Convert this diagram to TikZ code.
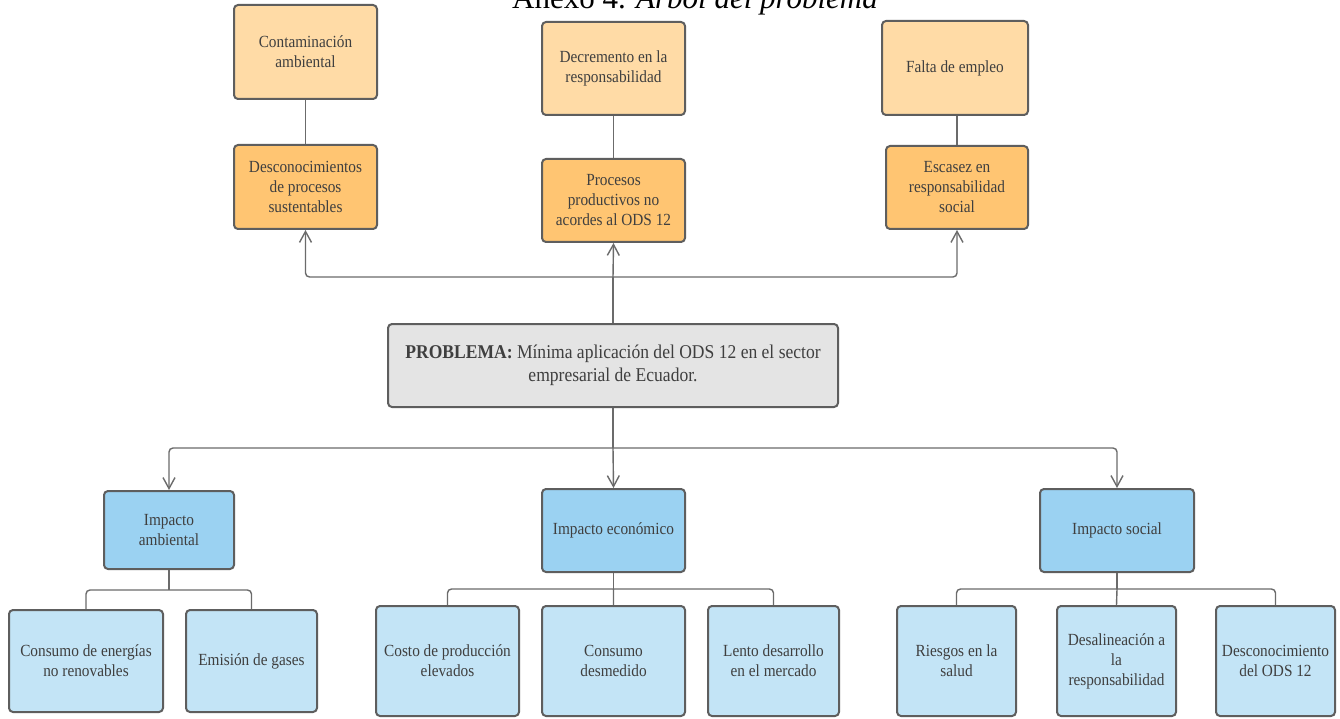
\documentclass[tikz,border=0pt]{standalone}
\usepackage{fontspec}
\setmainfont{Liberation Serif}
\newfontfamily\cajafont{Liberation Serif}[FakeStretch=0.9]
\usetikzlibrary{arrows.meta}
\definecolor{efecto}{HTML}{FFDBA6}
\definecolor{causa}{HTML}{FFC572}
\definecolor{problema}{HTML}{E4E4E4}
\definecolor{impacto}{HTML}{9BD2F2}
\definecolor{detalle}{HTML}{C3E4F6}
\definecolor{borde}{HTML}{5E5E5E}
\definecolor{linea}{HTML}{6B6B6B}
\definecolor{texto}{HTML}{3F3F3F}
\begin{document}
\begin{tikzpicture}[x=1pt,y=-1pt,
  caja/.style={draw=borde,line width=2pt,rounded corners=4pt,align=center,text=texto,
    font=\cajafont\fontsize{17}{20}\selectfont,inner sep=2pt},
  enlace/.style={draw=linea,line width=1.4pt,rounded corners=4pt},
  flecha/.style={enlace,-{Straight Barb[length=11pt,width=12pt,line width=1.4pt]}}]
\useasboundingbox[fill=white] (0,0) rectangle (1340,719);
\node[anchor=base] (titulo) at (695,9) {\fontsize{31}{36}\selectfont Anexo 4. \textit{Árbol del problema}};
% efectos
\node[caja,fill=efecto,minimum width=143pt,minimum height=94pt] (a1) at (305.5,52) {Contaminación\\ambiental};
\node[caja,fill=efecto,minimum width=143pt,minimum height=93pt] (a2) at (613.5,68.5) {Decremento en la\\responsabilidad};
\node[caja,fill=efecto,minimum width=146pt,minimum height=94pt] (a3) at (955,68) {Falta de empleo};
\node[caja,fill=causa,minimum width=143pt,minimum height=84pt] (b1) at (305.5,187) {Desconocimientos\\de procesos\\sustentables};
\node[caja,fill=causa,minimum width=143pt,minimum height=83pt] (b2) at (613.5,200.5) {Procesos\\productivos no\\acordes al ODS 12};
\node[caja,fill=causa,minimum width=142pt,minimum height=83pt] (b3) at (957,187.5) {Escasez en\\responsabilidad\\social};
% problema
\node[caja,fill=problema,minimum width=450pt,minimum height=83pt,font=\cajafont\fontsize{19.5}{23}\selectfont] (p) at (613,365.5)
  {\textbf{PROBLEMA:} Mínima aplicación del ODS 12 en el sector\\empresarial de Ecuador.};
% impactos
\node[caja,fill=impacto,minimum width=130pt,minimum height=78pt] (c1) at (169,530) {Impacto\\ambiental};
\node[caja,fill=impacto,minimum width=143pt,minimum height=83pt] (c2) at (613.5,530.5) {Impacto económico};
\node[caja,fill=impacto,minimum width=154pt,minimum height=83pt] (c3) at (1117,530.5) {Impacto social};
\node[caja,fill=detalle,minimum width=154pt,minimum height=102pt] (d1) at (86,661) {Consumo de energías\\no renovables};
\node[caja,fill=detalle,minimum width=131pt,minimum height=102pt] (d2) at (251.5,661) {Emisión de gases};
\node[caja,fill=detalle,minimum width=143pt,minimum height=110pt] (d3) at (447.5,661) {Costo de producción\\elevados};
\node[caja,fill=detalle,minimum width=143pt,minimum height=110pt] (d4) at (613.5,661) {Consumo\\desmedido};
\node[caja,fill=detalle,minimum width=131pt,minimum height=110pt] (d5) at (773.5,661) {Lento desarrollo\\en el mercado};
\node[caja,fill=detalle,minimum width=119pt,minimum height=110pt] (d6) at (956.5,661) {Riesgos en la\\salud};
\node[caja,fill=detalle,minimum width=119pt,minimum height=110pt] (d7) at (1116.5,661) {Desalineación a\\la\\responsabilidad};
\node[caja,fill=detalle,minimum width=119pt,minimum height=110pt] (d8) at (1275.5,661) {Desconocimiento\\del ODS 12};
% uniones
\coordinate (arriba) at (613,277);
\coordinate (abajo) at (613,448);
\coordinate (r1) at (169,590);
\coordinate (r2) at (613.5,589);
\coordinate (r3) at (1117,589);
\draw[enlace] (a1) -- (b1) (a2) -- (b2) (a3.south -| b3) -- (b3);
\draw[enlace] (p.north) -- (arriba);
\draw[flecha] (arriba) -| (b1.south);
\draw[flecha] (arriba) -- (b2.south);
\draw[flecha] (arriba) -| (b3.south);
\draw[enlace] (p.south) -- (abajo);
\draw[flecha] (abajo) -| (c1.north);
\draw[flecha] (abajo) -- (c2.north);
\draw[flecha] (abajo) -| (c3.north);
\draw[enlace] (c1.south) -- (r1) (c2.south) -- (r2) (c3.south) -- (r3);
\draw[enlace] (r1) -| (d1.north) (r1) -| (d2.north);
\draw[enlace] (r2) -| (d3.north) (r2) -- (d4.north) (r2) -| (d5.north);
\draw[enlace] (r3) -| (d6.north) (r3) -- (d7.north) (r3) -| (d8.north);
\end{tikzpicture}
\end{document}
